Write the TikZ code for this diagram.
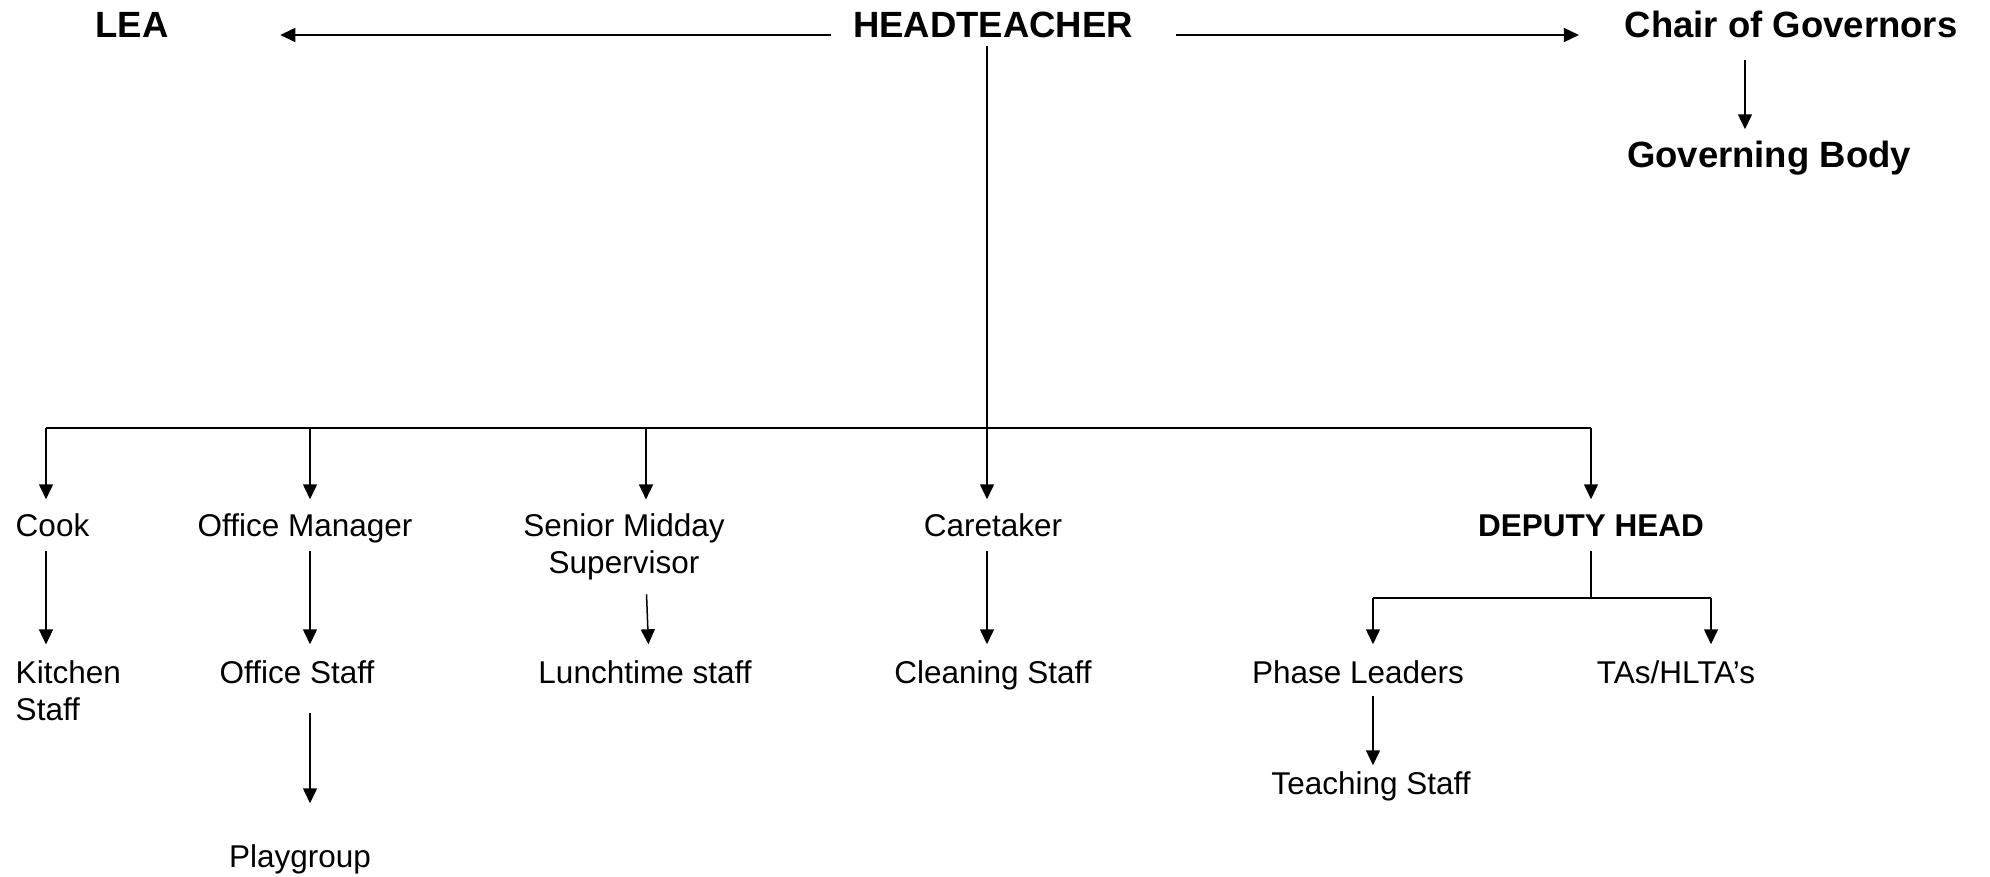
\documentclass[tikz,border=0pt]{standalone}
\usepackage{fontspec}
\setmainfont{Liberation Sans}
\usetikzlibrary{arrows.meta,positioning}

\begin{document}
\begin{tikzpicture}[%
    x=1pt, y=-1pt,
    >={Triangle[length=15pt,width=14pt]},
    line width=1.5pt,
    role/.style={font=\fontsize{31.5}{37}\selectfont, inner sep=0pt, anchor=base},
    one/.style={role, text height=23pt, text depth=7pt},
    chief/.style={one, font=\bfseries\fontsize{36.5}{42}\selectfont, text height=27pt, text depth=8pt},
    bus/.style={line width=2pt}
  ]
  \useasboundingbox (0,0) rectangle (1990,876);

  \node[chief] (lea) at (132,37) {LEA};
  \node[chief] (head) at (993,37) {HEADTEACHER};
  \node[chief] (chair) at (1791,37) {Chair of Governors};
  \node[chief] (gov) at (1769,167) {Governing Body};

  \node[one, anchor=base west] (cook) at (15,536) {Cook};
  \node[one] (manager) at (305,536) {Office Manager};
  \node[role, align=center] (senior) at (624,573) {Senior Midday\\Supervisor};
  \node[one] (caretaker) at (993,536) {Caretaker};
  \node[one, font=\bfseries\fontsize{31.5}{37}\selectfont] (deputy) at (1591,536) {DEPUTY HEAD};

  \node[role, align=left, anchor=base west] (kitchen) at (15,720) {Kitchen\\Staff};
  \node[one] (office) at (297,683) {Office Staff};
  \node[one] (lunch) at (645,683) {Lunchtime staff};
  \node[one] (cleaning) at (993,683) {Cleaning Staff};
  \node[one] (phase) at (1358,683) {Phase Leaders};
  \node[one] (tas) at (1676,683) {TAs/HLTA’s};

  \node[one] (teaching) at (1371,794) {Teaching Staff};
  \node[one] (play) at (300,867) {Playgroup};

  \coordinate (jcook) at (46,428);
  \coordinate (jman) at (310,428);
  \coordinate (jsen) at (646,428);
  \coordinate (jdep) at (1591,428);
  \coordinate (jsub) at (1591,598);
  \coordinate (jphase) at (1373,598);
  \coordinate (jtas) at (1711,598);

  % top row
  \draw[->, shorten <=21pt, shorten >=111pt] ([yshift=2pt]head.base west) -- ([yshift=2pt]lea.base east);
  \draw[->, shorten <=42pt, shorten >=45pt] ([yshift=2pt]head.base east) -- ([yshift=2pt]chair.base west);
  \draw[->, shorten <=14pt, shorten >=10pt] ([xshift=-46pt]chair.south) -- ([xshift=-46pt]chair.south |- gov.north);
  \draw[->, shorten >=13pt] ([xshift=-6pt]head.south) -- ([xshift=-6pt]caretaker.north);

  % staff line
  \draw[bus] (jcook) -- (jdep);
  \foreach \j/\w in {jcook/cook, jman/manager, jsen/senior}
    \draw[->, shorten >=13pt] (\j) -- (\j |- \w.north);
  \draw[->, shorten >=13pt] (jdep) -- (deputy.north);

  \draw[->, shorten <=7pt, shorten >=15pt] (cook.south -| jcook) -- (kitchen.north -| jcook);
  \draw[->, shorten <=7pt, shorten >=15pt] (manager.south -| jman) -- (office.north -| jman);
  \draw[->, shorten <=14pt, shorten >=15pt] (senior.south -| jsen) -- ([xshift=3pt]lunch.north -| jsen);
  \draw[->, shorten <=7pt, shorten >=15pt] ([xshift=-6pt]caretaker.south) -- ([xshift=-6pt]cleaning.north);

  % deputy
  \draw[shorten <=7pt] (deputy.south) -- (jsub);
  \draw[bus] (jphase) -- (jtas);
  \draw[->, shorten >=15pt] (jphase) -- (jphase |- phase.north);
  \draw[->, shorten >=15pt] (jtas) -- (jtas |- tas.north);

  \draw[->, shorten <=5pt, shorten >=5pt] (phase.south -| jphase) -- (jphase |- teaching.north);
  \draw[->, shorten <=22pt, shorten >=40pt] (office.south -| jman) -- (jman |- play.north);

\end{tikzpicture}
\end{document}
